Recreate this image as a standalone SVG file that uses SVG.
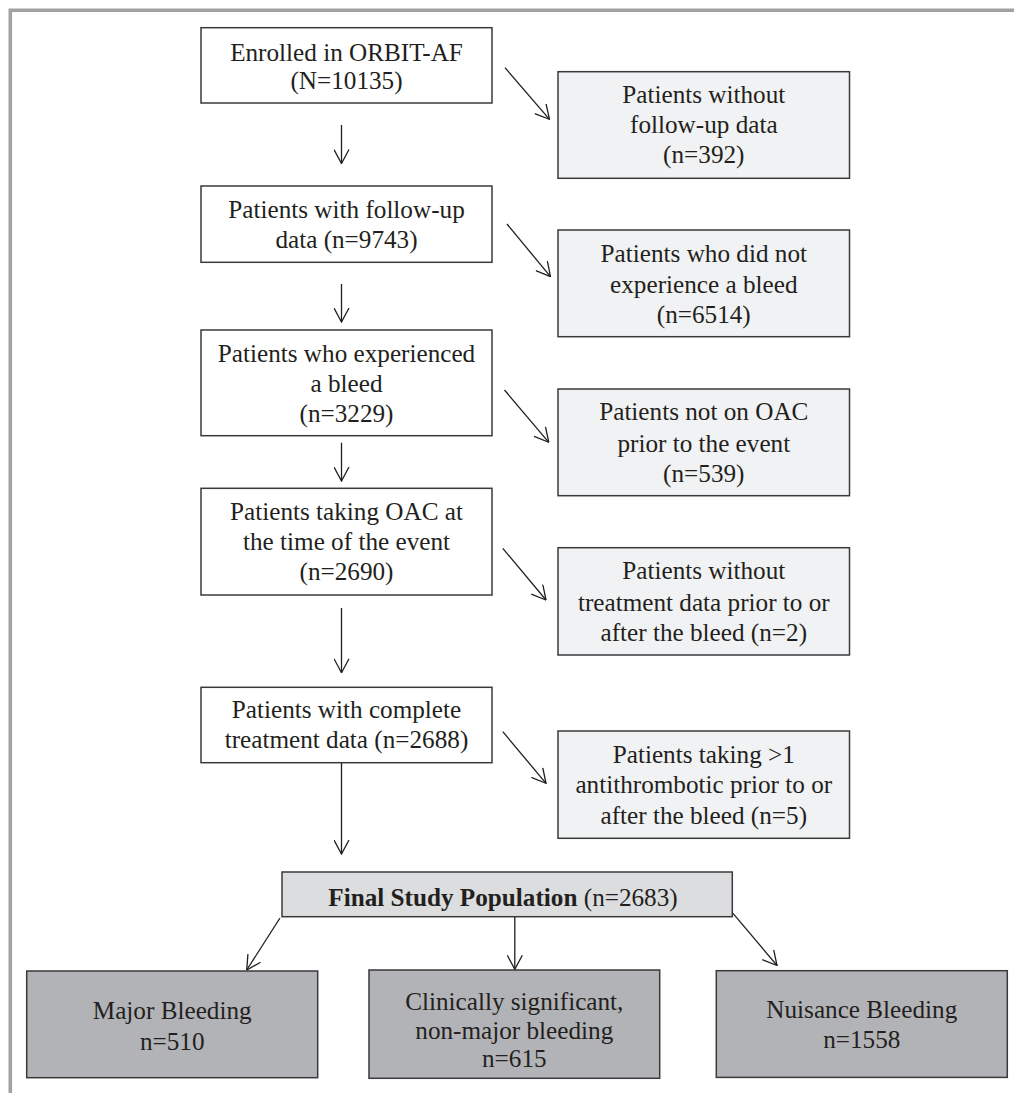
<svg xmlns="http://www.w3.org/2000/svg" width="1014" height="1093" viewBox="0 0 1014 1093">
<style>
  text { font-family: "Liberation Serif", "Times New Roman", serif; font-size: 25.2px; fill: #231f20; text-anchor: middle; }
  .b { font-weight: bold; }
  .box { stroke: #3a3a3a; stroke-width: 1.5; }
  .white { fill: #ffffff; }
  .light { fill: #f1f2f3; }
  .final { fill: #dcdddf; }
  .dark { fill: #b2b3b6; }
  .conn line { stroke: #231f20; stroke-width: 1.3; fill: none; marker-end: url(#arr); }
</style>
<defs>
  <marker id="arr" markerUnits="userSpaceOnUse" viewBox="0 0 15 16" refX="14.5" refY="8" markerWidth="15" markerHeight="16" orient="auto">
    <path d="M0.5,0.5 L14.5,8 L0.5,15.5" fill="none" stroke="#231f20" stroke-width="1.3"/>
  </marker>
</defs>
<rect width="1014" height="1093" fill="#ffffff"/>
<path d="M10.3,1093 V10.3 H1014" fill="none" stroke="#a2a2a4" stroke-width="3.6"/>

<g id="n1"><rect class="box white" x="201" y="27.7" width="291" height="75.3"/>
  <text x="346.5" y="60.5">Enrolled in ORBIT-AF</text><text x="346.5" y="89">(N=10135)</text></g>
<g id="n2"><rect class="box light" x="558" y="71.7" width="291.5" height="106.6"/>
  <text x="703.8" y="103">Patients without</text><text x="703.8" y="133">follow-up data</text><text x="703.8" y="163">(n=392)</text></g>
<g id="n3"><rect class="box white" x="201" y="186" width="291" height="76.3"/>
  <text x="346.5" y="218">Patients with follow-up</text><text x="346.5" y="248">data (n=9743)</text></g>
<g id="n4"><rect class="box light" x="558" y="230" width="291.5" height="106.7"/>
  <text x="703.8" y="262">Patients who did not</text><text x="703.8" y="293">experience a bleed</text><text x="703.8" y="323">(n=6514)</text></g>
<g id="n5"><rect class="box white" x="201" y="330" width="291" height="105.7"/>
  <text x="346.5" y="361.7">Patients who experienced</text><text x="346.5" y="391.7">a bleed</text><text x="346.5" y="421.7">(n=3229)</text></g>
<g id="n6"><rect class="box light" x="558" y="389" width="291.5" height="106.7"/>
  <text x="703.8" y="420">Patients not on OAC</text><text x="703.8" y="451.5">prior to the event</text><text x="703.8" y="481.7">(n=539)</text></g>
<g id="n7"><rect class="box white" x="201" y="488.3" width="291" height="106.7"/>
  <text x="346.5" y="520">Patients taking OAC at</text><text x="346.5" y="550">the time of the event</text><text x="346.5" y="580">(n=2690)</text></g>
<g id="n8"><rect class="box light" x="558" y="547.7" width="291.5" height="107.3"/>
  <text x="703.8" y="579">Patients without</text><text x="703.8" y="610.5">treatment data prior to or</text><text x="703.8" y="640.7">after the bleed (n=2)</text></g>
<g id="n9"><rect class="box white" x="201" y="687.3" width="291" height="75.4"/>
  <text x="346.5" y="718.3">Patients with complete</text><text x="346.5" y="748.3">treatment data (n=2688)</text></g>
<g id="n10"><rect class="box light" x="558" y="731" width="291.5" height="107.3"/>
  <text x="703.8" y="762.7">Patients taking &gt;1</text><text x="703.8" y="793.3">antithrombotic prior to or</text><text x="703.8" y="824.3">after the bleed (n=5)</text></g>
<g id="n11"><rect class="box final" x="282" y="872" width="450.3" height="44.7"/>
  <text x="503" y="906"><tspan class="b">Final Study Population</tspan> (n=2683)</text></g>
<g id="n12"><rect class="box dark" x="26.7" y="971" width="291" height="106.7"/>
  <text x="172.2" y="1019">Major Bleeding</text><text x="172.2" y="1050">n=510</text></g>
<g id="n13"><rect class="box dark" x="369" y="970" width="290.7" height="108.3"/>
  <text x="514.3" y="1010">Clinically significant,</text><text x="514.3" y="1039.3">non-major bleeding</text><text x="514.3" y="1066.7">n=615</text></g>
<g id="n14"><rect class="box dark" x="716.3" y="970.7" width="291" height="106.7"/>
  <text x="861.8" y="1018.3">Nuisance Bleeding</text><text x="861.8" y="1048.3">n=1558</text></g>

<g id="connectors" class="conn">
  <line x1="341.5" y1="125" x2="341.5" y2="163.5"/>
  <line x1="341.5" y1="284" x2="341.5" y2="322"/>
  <line x1="341.5" y1="442.7" x2="341.5" y2="481"/>
  <line x1="341.5" y1="608" x2="341.5" y2="672.7"/>
  <line x1="341.5" y1="762.7" x2="341.5" y2="854"/>
  <line x1="505" y1="67.7" x2="549.5" y2="119.3"/>
  <line x1="507" y1="224" x2="550.5" y2="276.7"/>
  <line x1="504.5" y1="390" x2="548.8" y2="442.3"/>
  <line x1="502.8" y1="548.3" x2="546" y2="600"/>
  <line x1="502.8" y1="731.7" x2="546" y2="783.3"/>
  <line x1="280" y1="918" x2="246.7" y2="970"/>
  <line x1="514.8" y1="916.7" x2="514.8" y2="969.3"/>
  <line x1="733" y1="913.3" x2="777" y2="965.5"/>
</g>
</svg>
